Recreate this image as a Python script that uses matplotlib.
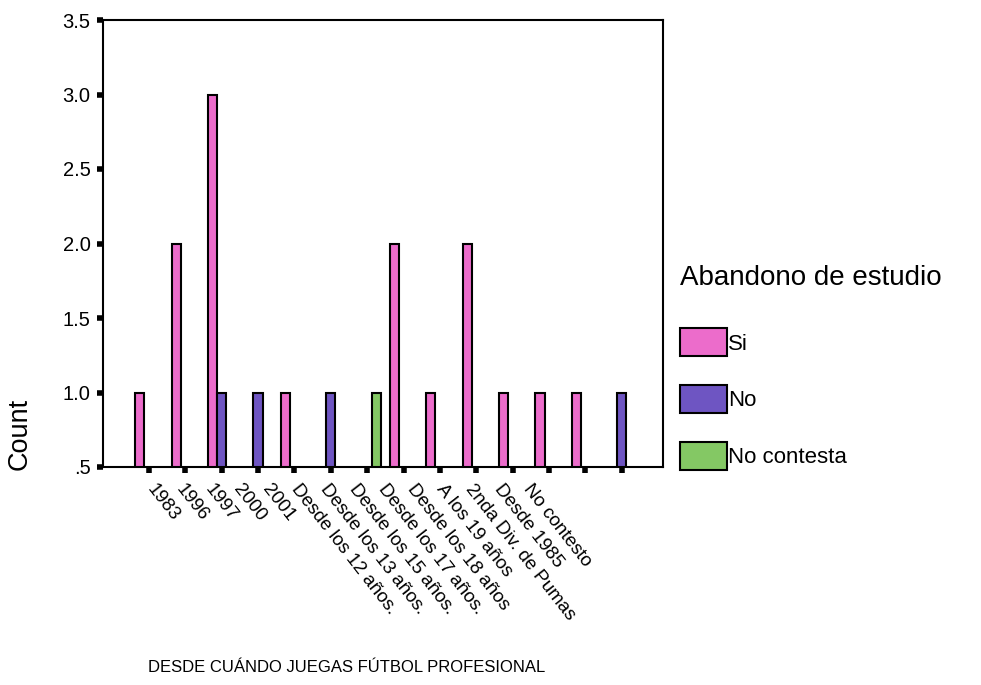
import matplotlib
matplotlib.use("Agg")
import matplotlib.pyplot as plt
from matplotlib.patches import Patch
import numpy as np

plt.rcParams['font.family'] = ['Liberation Sans', 'DejaVu Sans']

# counts per answer
categories = ['1983', '1996', '1997', '2000', '2001', 'Desde los 12 años.',
              'Desde los 13 años.', 'Desde los 15 años.', 'Desde los 17 años.',
              'Desde los 18 años', 'A los 19 años', '2nda Div. de Pumas',
              'Desde 1985', 'No contesto']
si = [1, 2, 3, 0, 1, 0, 0, 2, 1, 2, 1, 1, 1, 0]
no = [0, 0, 1, 1, 0, 1, 0, 0, 0, 0, 0, 0, 0, 1]
no_contesta = [0, 0, 0, 0, 0, 0, 1, 0, 0, 0, 0, 0, 0, 0]

series_names = ['Si', 'No', 'No contesta']
colors = ['#ec6ccb', '#6e55c2', '#84c864']
yticks = [0.5, 1.0, 1.5, 2.0, 2.5, 3.0, 3.5]
ytick_labels = ['.5', '1.0', '1.5', '2.0', '2.5', '3.0', '3.5']

fig = plt.figure(figsize=(9.81, 6.85), dpi=100)
ax = fig.add_axes([103 / 981, 1 - 467 / 685, 560 / 981, 447 / 685])

x = np.arange(len(categories))
w = 0.25
for k, (vals, c) in enumerate(zip([si, no, no_contesta], colors)):
    vals = np.array(vals, dtype=float)
    mask = vals > 0
    ax.bar(x[mask] + (k - 1) * w, vals[mask], width=w, color=c,
           edgecolor='black', linewidth=1.5, zorder=2)

ax.set_xlim(-1.26, 14.13)
ax.set_ylim(0.5, 3.5)
ax.set_yticks(yticks, ytick_labels)
ax.tick_params(axis='y', direction='out', length=4, width=4, pad=5,
               labelsize=14.5)

# tick marks at the clusters, labels packed a bit tighter (as in the original)
ax.set_xticks(x, [''] * len(x))
ax.tick_params(axis='x', which='major', direction='out', length=4, width=4)
label_pos = x * 0.795 + 0.22
ax.set_xticks(label_pos, categories, minor=True)
ax.tick_params(axis='x', which='minor', length=0, pad=10, labelsize=13.5)
for lab in ax.get_xticklabels(minor=True):
    lab.set_rotation(-52)
    lab.set_rotation_mode('anchor')
    lab.set_ha('left')
    lab.set_va('top')

for s in ax.spines.values():
    s.set_linewidth(1.5)

ax.set_ylabel('Count', fontsize=19.5)
ax.yaxis.set_label_coords(-0.125, 0.074)
ax.set_xlabel('DESDE CUÁNDO JUEGAS FÚTBOL PROFESIONAL', fontsize=12,
              ha='left', va='baseline')
ax.xaxis.set_label_coords(0.080, -0.459)

handles = [Patch(facecolor=c, edgecolor='black', linewidth=1.5) for c in colors]
leg = fig.legend(handles, series_names, title='Abandono de estudio',
                 loc='upper left', bbox_to_anchor=(680 / 981, 1 - 265 / 685),
                 frameon=False, fontsize=16, title_fontsize=20,
                 handlelength=2.11, handleheight=1.56, labelspacing=1.3,
                 handletextpad=0.05, borderpad=0, borderaxespad=0,
                 alignment='left')
# a bit more room between the title and the first entry
leg._legend_box.sep = 1.3 * 16 + 6

fig.savefig('out.png', dpi=100)
